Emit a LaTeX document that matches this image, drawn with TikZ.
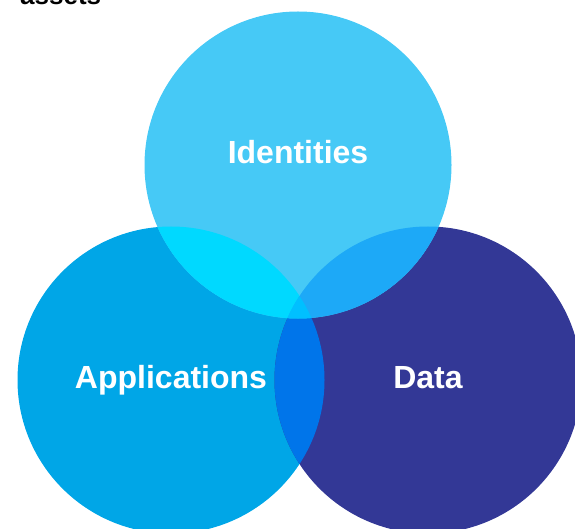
\documentclass[tikz,border=0pt]{standalone}
\usepackage{fontspec}
\setmainfont{Liberation Sans}
\definecolor{idblue}{HTML}{46C9F6}
\definecolor{appblue}{HTML}{00A6E7}
\definecolor{datablue}{HTML}{333896}
\definecolor{idapp}{HTML}{00D9FF}
\definecolor{iddata}{HTML}{1DA9F7}
\definecolor{appdata}{HTML}{0075EA}
\definecolor{allthree}{HTML}{00C0FF}

\begin{document}
\begin{tikzpicture}[x=1pt,y=-1pt,
  lbl/.style={text=white,font=\fontsize{32}{32}\selectfont\bfseries,anchor=base},
  rad/.style={radius=153.5pt}]
\useasboundingbox (0,0) rectangle (575,529);
\clip (0,0) rectangle (575,529);
% heading, cut at the top
  \node[anchor=base west,inner sep=0pt,font=\fontsize{26}{26}\selectfont\bfseries] (head) at (20,4.5) {assets};
  \coordinate (cI) at (298,165);
  \coordinate (cA) at (171,380);
  \coordinate (cD) at (428,380);
\fill[appblue] (cA) circle[rad];
\fill[datablue] (cD) circle[rad];
\fill[idblue] (cI) circle[rad];
% overlaps
\begin{scope}
  \clip (cA) circle[rad];
  \fill[appdata] (cD) circle[rad];
  \fill[idapp] (cI) circle[rad];
\end{scope}
\begin{scope}
  \clip (cD) circle[rad];
  \fill[iddata] (cI) circle[rad];
  \clip (cI) circle[rad];
  \fill[allthree] (cA) circle[rad];
\end{scope}
  \node[lbl] (ident) at (298,164) {Identities};
  \node[lbl] (apps)  at (171,388) {Applications};
  \node[lbl] (data)  at (428,388) {Data};
\end{tikzpicture}
\end{document}
